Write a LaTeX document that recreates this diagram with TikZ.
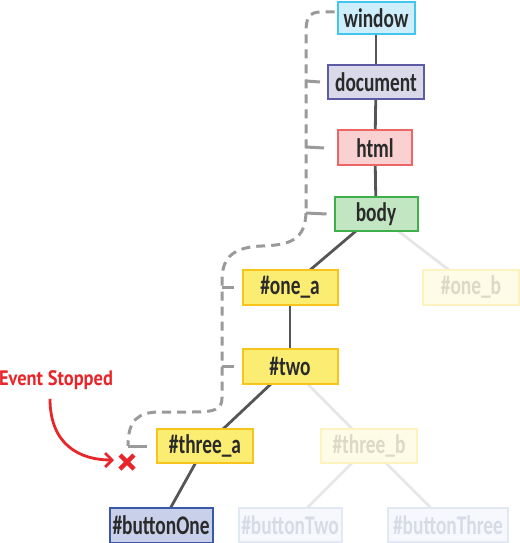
\documentclass[tikz,border=0pt]{standalone}
\usepackage{fontspec}
\setmainfont{Carlito}
\newfontfamily\nodefont[FakeStretch=0.72]{Carlito}
\newfontfamily\handfont[FakeStretch=0.88]{PT Sans}
\usetikzlibrary{arrows.meta,calc,backgrounds}
\definecolor{edgedark}{HTML}{555555}
\definecolor{edgefade}{HTML}{E6E6E6}
\definecolor{dashgray}{HTML}{9A9A9A}
\definecolor{txt}{HTML}{2A2A2A}
\definecolor{winfill}{HTML}{CDEEFA}\definecolor{windraw}{HTML}{42C6EE}
\definecolor{docfill}{HTML}{D9D9EA}\definecolor{docdraw}{HTML}{5D5BA6}
\definecolor{htmlfill}{HTML}{FAD0D0}\definecolor{htmldraw}{HTML}{EE6566}
\definecolor{bodyfill}{HTML}{C2E5C2}\definecolor{bodydraw}{HTML}{3DB04B}
\definecolor{yelfill}{HTML}{FBED72}\definecolor{yeldraw}{HTML}{F8C31B}
\definecolor{bluefill}{HTML}{C8D0EA}\definecolor{bluedraw}{HTML}{3B58A6}
\definecolor{fyfill}{HTML}{FEFBE6}\definecolor{fydraw}{HTML}{FDF2C0}\definecolor{fytxt}{HTML}{DCD9C6}
\definecolor{fbfill}{HTML}{F6F8FD}\definecolor{fbdraw}{HTML}{E3E8F5}\definecolor{fbtxt}{HTML}{D6DBE6}
\definecolor{stopred}{HTML}{E8262A}
\tikzset{
  box/.style={draw, line width=2bp, inner sep=0pt, minimum height=34bp, font=\nodefont\bfseries\fontsize{27}{27}\selectfont, text=txt},
  treeedge/.style={draw=edgedark, line width=2.8bp},
  fadeedge/.style={draw=edgefade, line width=2.8bp},
  dashline/.style={draw=dashgray, line width=3bp, dash pattern=on 9bp off 6bp},
  tickline/.style={draw=dashgray, line width=3bp},
}
\begin{document}
\begin{tikzpicture}[x=1bp,y=-1bp]
\useasboundingbox (0,0) rectangle (520,543);
% nodes
\node[box, fill=winfill, draw=windraw, minimum width=77bp, minimum height=32bp] (window) at (376,18) {window};
\node[box, fill=docfill, draw=docdraw, minimum width=96bp] (document) at (376,82) {document};
\node[box, fill=htmlfill, draw=htmldraw, minimum width=74bp, minimum height=35bp] (html) at (375,148) {html};
\node[box, fill=bodyfill, draw=bodydraw, minimum width=83bp, minimum height=33bp] (body) at (376,214) {body};
\node[box, fill=yelfill, draw=yeldraw, minimum width=95bp, minimum height=35bp] (onea) at (290,287) {\#one\_a};
\node[box, fill=fyfill, draw=fydraw, text=fytxt, minimum width=96bp, minimum height=35bp] (oneb) at (471,287) {\#one\_b};
\node[box, fill=yelfill, draw=yeldraw, minimum width=95bp, minimum height=35bp] (two) at (290,366) {\#two};
\node[box, fill=yelfill, draw=yeldraw, minimum width=96bp] (threea) at (205,446) {\#three\_a};
\node[box, fill=fyfill, draw=fydraw, text=fytxt, minimum width=96bp] (threeb) at (369,446) {\#three\_b};
\node[box, fill=bluefill, draw=bluedraw, minimum width=103bp, minimum height=35bp] (btnone) at (161,525) {\#buttonOne};
\node[box, fill=fbfill, draw=fbdraw, text=fbtxt, minimum width=103bp] (btntwo) at (290,525) {\#buttonTwo};
\node[box, fill=fbfill, draw=fbdraw, text=fbtxt, minimum width=120bp] (btnthree) at (448,525) {\#buttonThree};
% edges (behind nodes)
\begin{pgfonlayer}{background}
\path[fadeedge] (body.center) -- (oneb.center);
\path[fadeedge] (two.center) -- (threeb.center);
\path[fadeedge] (threeb.center) -- (btntwo.center);
\path[fadeedge] (threeb.center) -- (btnthree.center);
\path[treeedge] (window.center) -- (document.center);
\path[treeedge] (document.center) -- (html.center);
\path[treeedge] (html.center) -- (body.center);
\path[treeedge] (body.center) -- (onea.center);
\path[treeedge] (onea.center) -- (two.center);
\path[treeedge] (two.center) -- (threea.center);
\path[treeedge] (threea.center) -- (btnone.center);
\end{pgfonlayer}
% propagation path
\coordinate (stop) at (127,462);
\draw[dashline] ([xshift=-2bp]window.west |- 0,12) -- (321,12)
  .. controls (309,12) and (306,18) .. (306,32) -- (306,213);
\draw[dashline] (306,213) .. controls (305,240) and (290,245) .. (262,246)
  .. controls (235,247) and (222,256) .. (222,280) -- (222,398)
  .. controls (222,410) and (214,412) .. (192,412)
  -- (160,412) .. controls (138,412) and (128,420) .. (128,446);
\draw[tickline] (306,81) -- ([xshift=-7bp]document.west);
\draw[tickline] (306,147) -- ([xshift=-13bp]html.west);
\draw[tickline] (306,213) -- ([xshift=-7bp]body.west);
\draw[tickline] (222,287) -- ([xshift=-8bp]onea.west);
\draw[tickline] (222,366) -- ([xshift=-8bp]two.west);
\draw[tickline] (128,446) -- ([xshift=-9bp]threea.west);
% stop marker
\draw[stopred, line width=4.5bp] ($(stop)+(-7,-7)$) -- ($(stop)+(7,7)$);
\draw[stopred, line width=4.5bp] ($(stop)+(-7,7)$) -- ($(stop)+(7,-7)$);
\node[text=stopred, font=\handfont\bfseries\fontsize{21}{21}\selectfont, inner sep=0pt] (label) at (56,380) {Event Stopped};
\draw[stopred, line width=2.8bp, -{Straight Barb[length=7bp,width=14bp]}] ([xshift=-6bp,yshift=-9bp]label.south)
  .. controls (50,445) and (80,460) .. ($(stop)+(-13,-2)$);
\end{tikzpicture}
\end{document}
